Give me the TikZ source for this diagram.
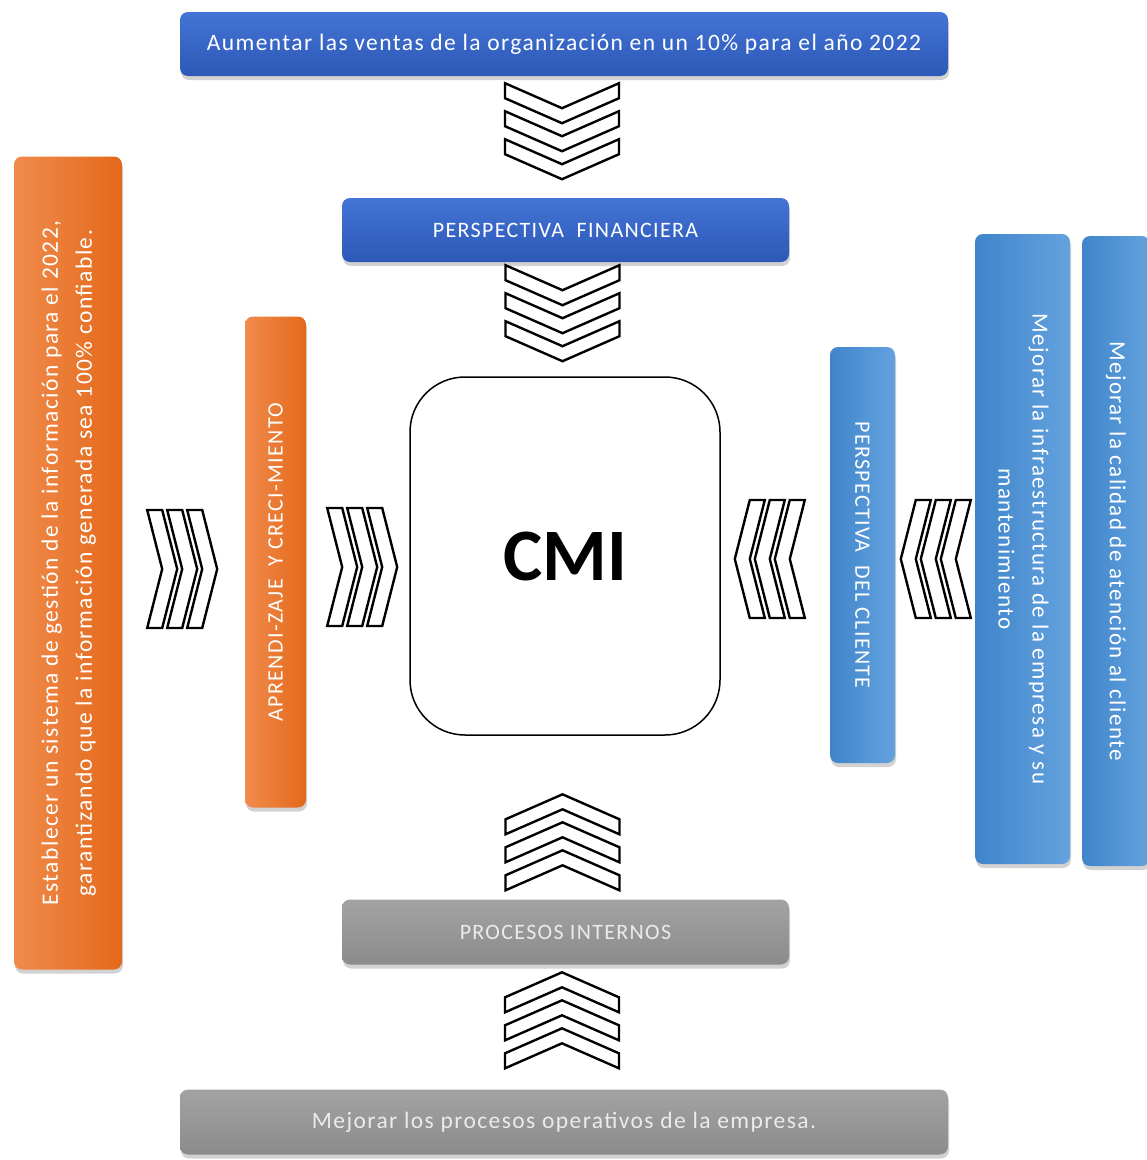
\documentclass[tikz,border=0pt]{standalone}
\usepackage{fontspec}
\setmainfont{Carlito}[LetterSpace=6]
\usepackage{graphicx}
\usetikzlibrary{calc,shadows}
\definecolor{bluetop}{HTML}{4374D6}
\definecolor{bluebot}{HTML}{2D58B6}
\definecolor{orangel}{HTML}{F08B4C}
\definecolor{oranger}{HTML}{E4691A}
\definecolor{skyl}{HTML}{3F85CB}
\definecolor{skyr}{HTML}{64A2DE}
\definecolor{graytop}{HTML}{A3A3A3}
\definecolor{graybot}{HTML}{8B8B8B}

\begin{document}
\begin{tikzpicture}
[x=1pt,y=-1pt,
box/.style={rounded corners=8pt,inner sep=0pt,text=white,
	drop shadow={opacity=0.35,shadow xshift=1pt,shadow yshift=-4pt}},
dbox/.style={box,top color=bluetop,bottom color=bluebot},
obox/.style={box,left color=orangel,right color=oranger},
sbox/.style={box,left color=skyl,right color=skyr},
gbox/.style={box,top color=graytop,bottom color=graybot,text=black!8},
chevline/.style={draw=black,line width=2.4pt,fill=white,line join=miter},
hchev/.pic={\foreach \k in {0,20,40}
	{\path[chevline] (\k,-59) -- (\k+15,0) -- (\k,59) -- (\k+15,59) -- (\k+30,0) -- (\k+15,-59) -- cycle;}},
vchev/.pic={\foreach \k in {0,28,56}
	{\path[chevline] (\k,-57) -- (\k+25,0) -- (\k,57) -- (\k+15,57) -- (\k+40,0) -- (\k+15,-57) -- cycle;}}]
\useasboundingbox[fill=white] (0,0) rectangle (1147,1160);

% eje vertical
\node[dbox,minimum width=768,minimum height=64,font=\fontsize{23.5}{26}\selectfont] (ventas) at (564,44)
	{Aumentar las ventas de la organización en un 10\% para el año 2022};
\node[dbox,minimum width=447,minimum height=64,font=\fontsize{22}{24}\selectfont] (fin) at (565.5,230)
	{PERSPECTIVA~ FINANCIERA};
\node[draw,line width=1.5pt,rounded corners=55pt,minimum width=310,minimum height=358,
	font=\fontsize{74}{74}\selectfont\bfseries\addfontfeature{LetterSpace=0}] (cmi) at (565,556) {CMI};
\node[gbox,minimum width=447,minimum height=65,font=\fontsize{22}{24}\selectfont] (proc) at (565.5,932)
	{PROCESOS INTERNOS};
\node[gbox,minimum width=768,minimum height=65,font=\fontsize{23.5}{26}\selectfont] (oper) at (564,1122)
	{Mejorar los procesos operativos de la empresa.};

% lado izquierdo
\node[obox,minimum width=108,minimum height=813,font=\fontsize{23.5}{34}\selectfont] (est) at (68,563)
	{\rotatebox{90}{\begin{tabular}{@{}c@{}}Establecer un sistema de gestión de la información para el 2022,\\
	garantizando que la información generada sea 100\% confiable.\end{tabular}}};
\node[obox,minimum width=61,minimum height=491,font=\fontsize{22}{24}\selectfont] (apr) at (275.5,562)
	{\rotatebox{90}{APRENDI-ZAJE~ Y CRECI-MIENTO}};

% lado derecho
\node[sbox,minimum width=65,minimum height=416,font=\fontsize{22}{24}\selectfont] (cli) at (862.5,555)
	{\rotatebox{-90}{PERSPECTIVA~ DEL CLIENTE}};
\node[sbox,minimum width=95,minimum height=630,font=\fontsize{23}{34}\selectfont] (infra) at (1022.5,549)
	{\rotatebox{-90}{\begin{tabular}{@{}c@{}}Mejorar la infraestructura de la empresa y su\\
	mantenimiento\end{tabular}}};
\node[sbox,minimum width=68,minimum height=630,font=\fontsize{23}{26}\selectfont] (cal) at (1116,551)
	{\rotatebox{-90}{Mejorar la calidad de atención al cliente}};

% chevrones
\pic[rotate=-90] at ($(ventas.south)+(-2,7)$) {vchev};
\pic[rotate=-90] at ($(fin.south)+(-3,3)$) {vchev};
\pic[rotate=90] at ($(proc.north)+(-3,-9)$) {vchev};
\pic[rotate=90] at ($(oper.north)+(-2,-21)$) {vchev};
\pic at ($(est.east)+(25,6)$) {hchev};
\pic at ($(apr.east)+(21,5)$) {hchev};
\pic[rotate=180] at ($(cli.west)+(-25,4)$) {hchev};
\pic[rotate=180] at ($(infra.west)+(-4,10)$) {hchev};
\end{tikzpicture}
\end{document}
